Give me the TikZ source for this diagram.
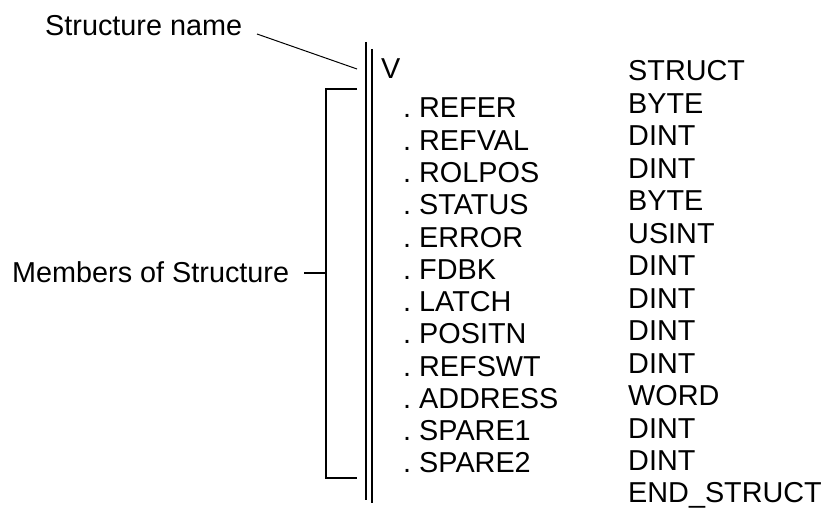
\documentclass[tikz,border=0pt]{standalone}
\usepackage{fontspec}
\setmainfont{Liberation Sans}
\begin{document}
\begin{tikzpicture}[x=1pt,y=-1pt,
  lbl/.style={anchor=base west,inner sep=0pt,font=\fontsize{28.8}{34}\selectfont},
  thick line/.style={line width=2.2pt},
  leader/.style={line width=1pt}]
\useasboundingbox (0,0) rectangle (827,510);
% labels
\node[lbl] (sname) at (45,36) {Structure name};
\node[lbl] (mname) at (12,283) {Members of Structure};
% double vertical line
\coordinate (dlTop) at (366,42);
\coordinate (dlBot) at (366,500);
\coordinate (drTop) at (372,49);
\coordinate (drBot) at (372,503);
\draw[thick line] (dlTop) -- (dlBot);
\draw[thick line] (drTop) -- (drBot);
% leader to structure name
\coordinate (lA) at (257,34);
\coordinate (lB) at (357,69);
\draw[leader] (lA) -- (lB);
% bracket
\coordinate (bTR) at (357,89);
\coordinate (bTL) at (326,89);
\coordinate (bBL) at (326,478);
\coordinate (bBR) at (357,478);
\coordinate (bM) at (326,273);
\coordinate (bMl) at (304,273);
\draw[thick line] (bTR) -- (bTL) -- (bBL) -- (bBR);
\draw[thick line] (bM) -- (bMl);
% structure name
\node[lbl] (v) at (381,79) {V};
% members
\foreach \n [count=\i from 0] in {REFER,REFVAL,ROLPOS,STATUS,ERROR,FDBK,LATCH,POSITN,REFSWT,ADDRESS,SPARE1,SPARE2}{
  \node[lbl] (m\i) at (403,118+32.27*\i) {.\ \n};
}
% types
\foreach \t [count=\i from 0] in {STRUCT,BYTE,DINT,DINT,BYTE,USINT,DINT,DINT,DINT,DINT,WORD,DINT,DINT,END\_STRUCT}{
  \node[lbl] (t\i) at (628,81+32.46*\i) {\t};
}
\end{tikzpicture}
\end{document}
